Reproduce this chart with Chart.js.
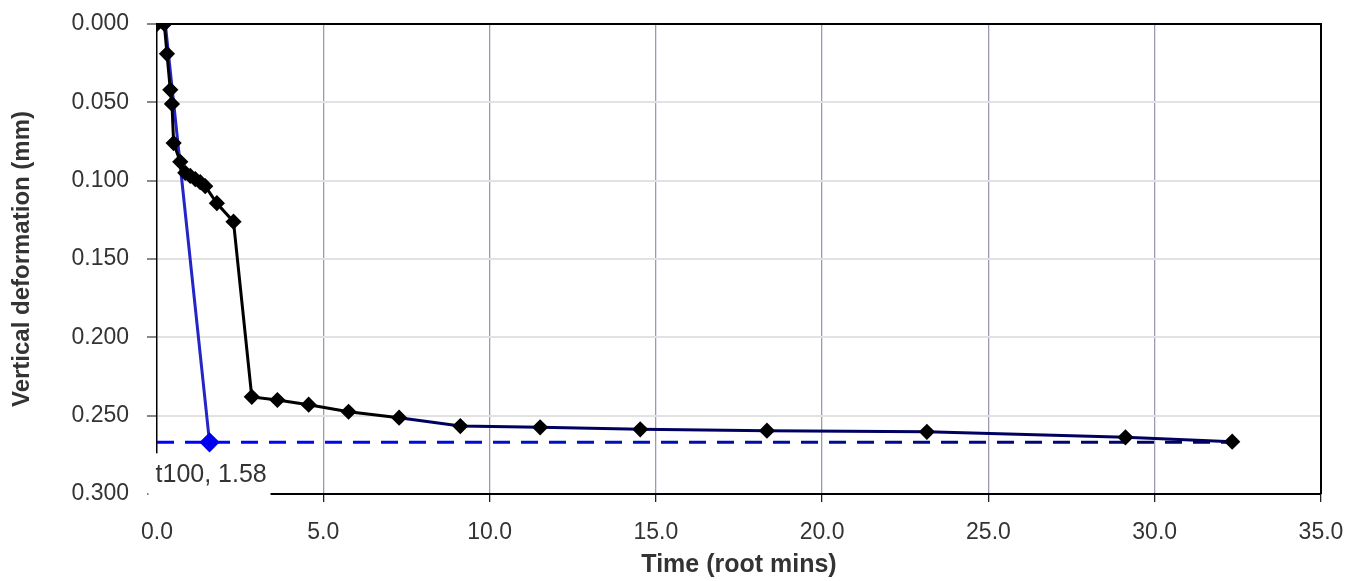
<!DOCTYPE html>
<html><head><meta charset="utf-8">
<script src="https://cdn.jsdelivr.net/npm/chart.js@4.4.1/dist/chart.umd.min.js"></script>
<style>html,body{margin:0;padding:0;background:#fff}#wrap{width:1362px;height:581px;position:relative}canvas{display:block}</style>
</head><body><div id="wrap"><canvas id="c" width="1362" height="581" style="width:1362px;height:581px"></canvas></div>
<script>
// Measured data: time in root minutes, vertical deformation in mm
const timeRoot = [0, 0.22, 0.30, 0.40, 0.45, 0.50, 0.70, 0.85, 1.00, 1.15, 1.30, 1.45, 1.80, 2.30, 2.85, 3.62, 4.56, 5.76, 7.28, 9.12, 11.52, 14.53, 18.34, 23.15, 29.12, 32.33];
const deformation = [0, 0, 0.019, 0.042, 0.051, 0.076, 0.088, 0.095, 0.097, 0.099, 0.101, 0.1035, 0.1144, 0.1262, 0.238, 0.240, 0.243, 0.2475, 0.2513, 0.2566, 0.2574, 0.2587, 0.2596, 0.2603, 0.2638, 0.2666];
// Construction line (t100) and level
const fitX = [0.25, 1.58];
const fitY = [0, 0.267];
const levelX = [0, 32.33];
const levelY = [0.267, 0.267];
const t100Label = 't100, 1.58';
const xTicks = [0, 5, 10, 15, 20, 25, 30, 35];
const yTicks = [0, 0.05, 0.1, 0.15, 0.2, 0.25, 0.3];
const xTitle = 'Time (root mins)';
const yTitle = 'Vertical deformation (mm)';

const FONT = '"Liberation Sans", Arial, sans-serif';
const pts = (xs, ys) => xs.map((x, i) => ({x, y: ys[i]}));

const frame = {
  id: 'frame',
  beforeDatasetsDraw(chart) {
    const {ctx, chartArea: a} = chart;
    ctx.save();
    ctx.strokeStyle = '#000';
    ctx.lineWidth = 2;
    ctx.beginPath();
    ctx.moveTo(a.left, a.top);
    ctx.lineTo(a.right, a.top);
    ctx.lineTo(a.right, a.bottom);
    ctx.stroke();
    ctx.restore();
  },
  afterDraw(chart) {
    const {ctx} = chart;
    const xs = chart.scales.x, ys = chart.scales.y;
    const px = xs.getPixelForValue(fitX[1]);
    const py = ys.getPixelForValue(fitY[1]);
    ctx.save();
    ctx.fillStyle = '#fff';
    ctx.fillRect(px - 61, py + 11, 122, 49);
    ctx.fillStyle = '#333';
    ctx.font = '25px ' + FONT;
    ctx.textBaseline = 'middle';
    ctx.textAlign = 'left';
    ctx.fillText(t100Label, px - 54, py + 33);
    ctx.restore();
  }
};

new Chart(document.getElementById('c'), {
  type: 'scatter',
  data: {
    datasets: [
      {
        data: pts(levelX, levelY),
        showLine: true,
        pointRadius: 0,
        borderWidth: 3,
        borderDash: [17, 11],
        borderColor(ctx) {
          const a = ctx.chart.chartArea;
          if (!a) return '#0000cc';
          const g = ctx.chart.ctx.createLinearGradient(a.left, 0, a.right, 0);
          g.addColorStop(0, '#0000ff');
          g.addColorStop(0.35, '#0010c0');
          g.addColorStop(1, '#000050');
          return g;
        },
        order: 3
      },
      {
        data: pts(fitX, fitY),
        showLine: true,
        borderColor: '#2424c8',
        borderWidth: 3,
        pointRadius: [0, 8],
        pointStyle: 'rectRot',
        pointBackgroundColor: '#0000ee',
        pointBorderColor: '#0000ee',
        order: 2
      },
      {
        data: pts(timeRoot, deformation),
        showLine: true,
        borderColor: '#000',
        borderWidth: 3,
        segment: {
          borderColor: c => c.p0.parsed.x >= 7 ? '#000060' : '#000'
        },
        pointStyle: 'rectRot',
        pointRadius: 6,
        pointBackgroundColor: '#000',
        pointBorderColor: '#000',
        order: 1
      }
    ]
  },
  options: {
    responsive: false,
    animation: false,
    events: [],
    layout: {padding: {left: 0, top: 24, right: 41, bottom: 0}},
    plugins: {legend: {display: false}, tooltip: {enabled: false}},
    scales: {
      x: {
        type: 'linear', min: 0, max: 35,
        afterBuildTicks(s) { s.ticks = xTicks.map(v => ({value: v})); },
        afterFit(s) { s.height = 87; s.paddingLeft = 0; s.paddingRight = 0; },
        ticks: {
          color: '#333', font: {family: FONT, size: 23}, padding: 17,
          callback: v => Number(v).toFixed(1), maxRotation: 0, autoSkip: false
        },
        grid: {
          color: c => (c.tick && (c.tick.value === 0 || c.tick.value === 35)) ? 'rgba(0,0,0,0)' : '#9a9ab4',
          lineWidth: 1.3, tickLength: 8, tickColor: '#222', drawTicks: true
        },
        border: {display: true, color: '#000', width: 2},
        title: {display: true, text: xTitle, color: '#333', font: {family: FONT, size: 25, weight: 'bold'}, padding: {top: 0, bottom: 1}}
      },
      y: {
        type: 'linear', reverse: true, min: 0, max: 0.3,
        afterBuildTicks(s) { s.ticks = yTicks.map(v => ({value: v})); },
        afterFit(s) { s.width = 157; s.paddingTop = 0; s.paddingBottom = 0; },
        ticks: {
          color: '#333', font: {family: FONT, size: 23}, padding: 18,
          callback: v => Number(v).toFixed(3), autoSkip: false
        },
        grid: {
          color: c => (c.tick && (c.tick.value === 0 || Math.abs(c.tick.value - 0.3) < 1e-9)) ? 'rgba(0,0,0,0)' : '#e2e2e2',
          lineWidth: 2, tickLength: 10, tickColor: '#888', drawTicks: true
        },
        border: {display: true, color: '#000', width: 1.5},
        title: {display: true, text: yTitle, color: '#333', font: {family: FONT, size: 24, weight: 'bold'}, padding: {top: 8, bottom: 0}}
      }
    }
  },
  plugins: [frame]
});
</script>
</body></html>
